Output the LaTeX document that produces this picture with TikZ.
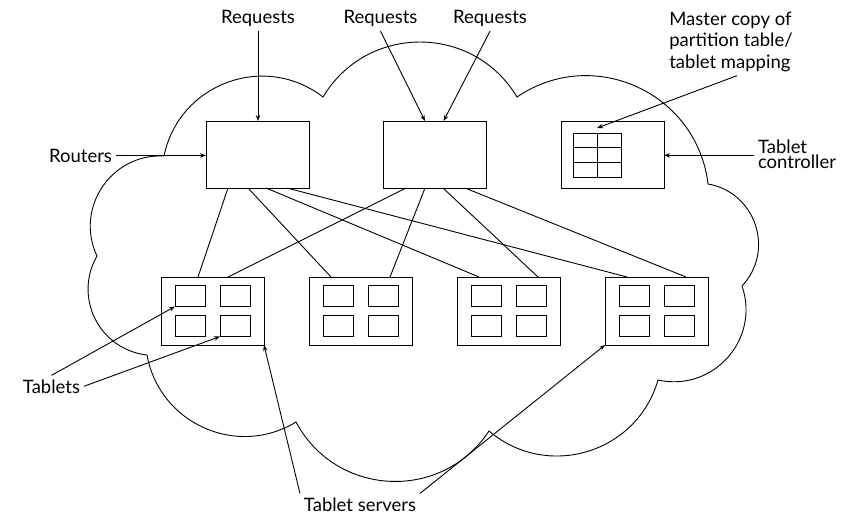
\documentclass[tikz,border=0pt]{standalone}
\usepackage{fontspec}
\setmainfont{Lato}
\usetikzlibrary{arrows.meta}

\begin{document}
\begin{tikzpicture}[x=1pt,y=1pt,
  every node/.style={inner sep=0pt,outer sep=0pt},
  lbl/.style={inner sep=4pt,font=\fontsize{18.5}{21.3}\selectfont},
  unit/.style={draw,line width=1pt,minimum width=103pt,minimum height=67pt},
  srv/.style={draw,line width=1pt,minimum width=103pt,minimum height=68pt},
  cell/.style={draw,line width=1pt,minimum width=30pt,minimum height=21pt},
  cloudline/.style={line width=0.9pt},
  link/.style={line width=0.9pt},
  arr/.style={line width=0.9pt,-{Stealth[length=6pt,width=4.5pt]}}
]
\useasboundingbox (0,0) rectangle (850,-516);

% cloud outline, one arc per lobe, clockwise
\draw[cloudline]
  (164,-156)
  .. controls (178.9,-83.7) and (264.5,-51.9) .. (323,-97)
  .. controls (366.9,-23.7) and (473.1,-23.7) .. (517,-97)
  .. controls (593.1,-45.2) and (697.1,-92.6) .. (708,-184)
  .. controls (755.8,-192.4) and (775.2,-250.6) .. (742,-286)
  .. controls (760.4,-339.4) and (713.2,-392.2) .. (658,-380)
  .. controls (636.8,-453.3) and (547.2,-480.3) .. (489,-431)
  .. controls (442.2,-502.1) and (336,-497.1) .. (296,-422)
  .. controls (236.6,-458.2) and (159.4,-423.4) .. (147,-355)
  .. controls (99.5,-349.7) and (73.1,-297.5) .. (97,-256)
  .. controls (74.5,-208) and (111.1,-153.4) .. (164,-156);

% routers and tablet controller
\node[unit] (r1) at (257.5,-154.5) {};
\node[unit] (r2) at (434.5,-154.5) {};
\node[unit] (ctl) at (612.5,-154.5) {};

% partition table inside the controller
\node[draw,line width=1pt,minimum width=48pt,minimum height=44pt] (grid) at (597,-155) {};
\draw[line width=1pt] (grid.north) -- (grid.south);
\draw[line width=1pt] ([yshift=-14.67]grid.north west) -- ([yshift=-14.67]grid.north east);
\draw[line width=1pt] ([yshift=14.67]grid.south west) -- ([yshift=14.67]grid.south east);

% tablet servers, four tablets each
\foreach \i/\x in {1/212.5,2/360.5,3/508.5,4/656.5}{
  \node[srv] (s\i) at (\x,-311) {};
  \node[cell] (s\i-1) at ([shift={(-22.5,15)}]s\i.center) {};
  \node[cell] (s\i-2) at ([shift={(22.5,15)}]s\i.center) {};
  \node[cell] (s\i-3) at ([shift={(-22.5,-15)}]s\i.center) {};
  \node[cell] (s\i-4) at ([shift={(22.5,-15)}]s\i.center) {};
}

% router to server links
\draw[link] ([xshift=22]r1.south west) -- ([xshift=37]s1.north west);
\draw[link] ([xshift=42]r1.south west) -- ([xshift=22]s2.north west);
\draw[link] ([xshift=60]r1.south west) -- ([xshift=22]s3.north west);
\draw[link] ([xshift=81]r1.south west) -- ([xshift=22]s4.north west);
\draw[link] ([xshift=23]r2.south west) -- ([xshift=67]s1.north west);
\draw[link] ([xshift=42]r2.south west) -- ([xshift=81]s2.north west);
\draw[link] ([xshift=60]r2.south west) -- ([xshift=81]s3.north west);
\draw[link] ([xshift=82]r2.south west) -- ([xshift=81]s4.north west);

% labels
\node[lbl,anchor=base] (req1) at (258,-24) {Requests};
\node[lbl,anchor=base] (req2) at (380.5,-24) {Requests};
\node[lbl,anchor=base] (req3) at (490,-24) {Requests};
\node[lbl,anchor=base] (routers) at (80.5,-162) {Routers};
\node[lbl,anchor=base west,align=left] (master) at (665.3,-68.3) {Master copy of\\partition table/\\tablet mapping};
\node[lbl,anchor=base west,align=left,font=\fontsize{18.5}{14.4}\selectfont] (ctlbl) at (754,-168.3) {Tablet\\controller};
\node[lbl,anchor=base] (tablets) at (51.5,-393) {Tablets};
\node[lbl,anchor=base] (tsv) at (360,-511) {Tablet servers};

% arrows
\draw[arr] (req1.south) -- (req1.south |- r1.north);
\draw[arr] (req2.south) -- ([xshift=-9.5]r2.north);
\draw[arr] (req3.south) -- ([xshift=9]r2.north);
\draw[arr] (routers.east) -- (routers.east -| r1.west);
\draw[arr] ([xshift=6]master.south) -- ([yshift=5]grid.north);
\draw[arr] ([yshift=-1]ctlbl.west) -- ([yshift=-1]ctlbl.west -| ctl.east);
\draw[arr] (tablets.north) -- (s1-1.south west);
\draw[arr] (tablets.east) -- (s1-4.south west);
\draw[arr] (tsv.north west) -- (s1.south east);
\draw[arr] (tsv.north east) -- (s4.south west);
\end{tikzpicture}
\end{document}
